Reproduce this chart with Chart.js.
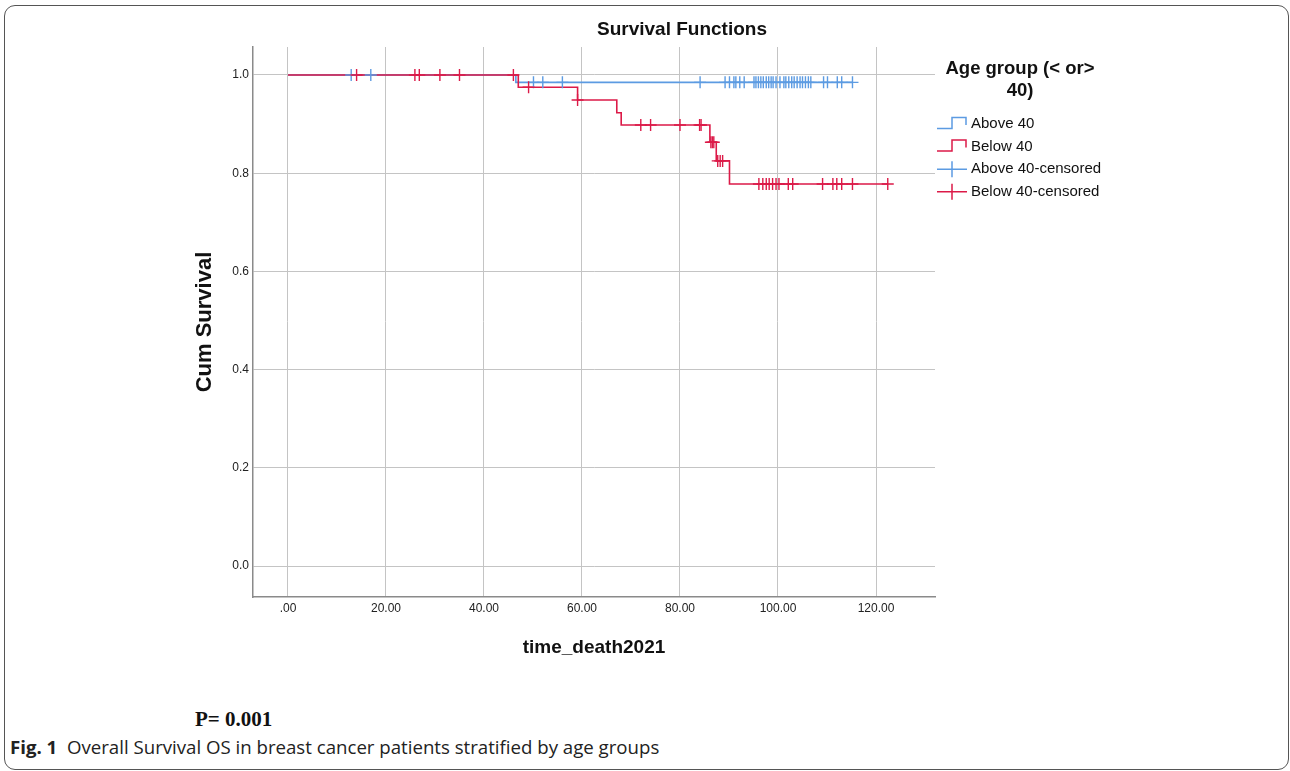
<!DOCTYPE html>
<html>
<head>
<meta charset="utf-8">
<title>Survival Functions</title>
<script src="https://cdn.jsdelivr.net/npm/chart.js@4.4.1/dist/chart.umd.min.js"></script>
<style>
  html, body { margin: 0; padding: 0; background: #ffffff; }
  body { width: 1290px; height: 771px; position: relative; overflow: hidden; font-family: "Liberation Sans", Arial, sans-serif; }
  #frame { position: absolute; left: 4px; top: 5px; width: 1285px; height: 765px; border: 1px solid #555; border-radius: 11px; box-sizing: border-box; }
  #wrap { position: absolute; left: 0; top: 0; width: 1290px; height: 690px; }
  #pval { position: absolute; left: 195px; top: 706px; font: bold 21px "Liberation Serif", "Times New Roman", serif; line-height: 26px; color: #111; }
  #caption { position: absolute; left: 10px; top: 736px; font: 18.65px "Open Sans", "Noto Sans", sans-serif; line-height: 22px; color: #222; white-space: nowrap; }
</style>
</head>
<body>
<div id="frame"></div>
<div id="wrap"><canvas id="km" width="1290" height="690"></canvas></div>
<div id="pval">P= 0.001</div>
<div id="caption"><b>Fig. 1</b>&nbsp; Overall Survival OS in breast cancer patients stratified by age groups</div>

<script>
// Kaplan-Meier steps: time at which the curve reaches each level
const aboveTimes = [0, 46.5, 115.2];
const aboveSurv  = [1.0, 0.985, 0.985];

const belowTimes = [0, 47.0, 59.1, 67.1, 68.0, 86.1, 87.4, 90.1, 122.4];
const belowSurv  = [1.0, 0.975, 0.949, 0.923, 0.898, 0.863, 0.825, 0.778, 0.778];

// Censored observations (months)
const aboveCensored = [12.9, 16.9, 50.1, 52.0, 56.0, 84.1, 89.2, 90.1, 91.0, 91.4, 92.2, 93.1,
  95.1, 95.5, 96.0, 96.5, 97.0, 97.6, 98.1, 98.6, 99.0, 99.6, 100.4, 101.2, 101.6, 102.2,
  102.8, 103.3, 103.9, 104.5, 105.0, 105.6, 106.2, 106.7, 109.3, 110.1, 112.1, 113.0, 115.2];
const belowCensored = [14.0, 25.9, 26.8, 31.0, 35.0, 46.0, 49.1, 59.1, 72.0, 74.0, 80.0, 84.0,
  84.3, 86.3, 86.6, 86.9, 87.7, 88.2, 88.7, 96.1, 96.9, 97.6, 98.2, 98.9, 99.6, 100.2,
  102.1, 103.0, 109.1, 111.2, 112.0, 113.0, 115.2, 122.4];

// Axis ticks
const xTickValues = [0, 20, 40, 60, 80, 100, 120];
const xTickLabels = ['.00', '20.00', '40.00', '60.00', '80.00', '100.00', '120.00'];
const yTickValues = [0, 0.2, 0.4, 0.6, 0.8, 1.0];
const yTickLabels = ['0.0', '0.2', '0.4', '0.6', '0.8', '1.0'];

const legendTitle = ['Age group (< or>', '40)'];
const groupLabels = ['Above 40', 'Below 40', 'Above 40-censored', 'Below 40-censored'];

const BLUE = '#5c9be2';
const RED = '#dc1a48';
const FONT = '"Liberation Sans", Arial, sans-serif';

function stepPoints(times, surv) {
  return times.map((t, i) => ({ x: t, y: surv[i] }));
}
// survival level of a step curve at time t (value of the last step at or before t)
function levelAt(times, surv, t) {
  let s = surv[0];
  for (let i = 0; i < times.length; i++) if (times[i] <= t) s = surv[i];
  return s;
}
function censorPoints(times, surv, cens) {
  return cens.map(t => ({ x: t, y: levelAt(times, surv, t) }));
}

// Legend drawn to the right of the plot: step glyphs for curves, crosses for censored marks
const kmLegend = {
  id: 'kmLegend',
  afterDraw(chart) {
    const ctx = chart.ctx;
    const left = chart.chartArea.right + 2;
    ctx.save();
    ctx.fillStyle = '#111';
    ctx.textBaseline = 'middle';
    ctx.font = 'bold 18.5px ' + FONT;
    ctx.textAlign = 'center';
    legendTitle.forEach((t, i) => ctx.fillText(t, left + 83, 69 + i * 21.5));

    ctx.font = '15px ' + FONT;
    ctx.textAlign = 'left';
    const kinds = ['step', 'step', 'cross', 'cross'];
    const colors = [BLUE, RED, BLUE, RED];
    groupLabels.forEach((lab, i) => {
      const c = 124 + i * 22.6;
      ctx.strokeStyle = colors[i];
      ctx.lineWidth = 1.5;
      ctx.beginPath();
      if (kinds[i] === 'step') {
        ctx.moveTo(left, c + 4.5);
        ctx.lineTo(left + 15, c + 4.5);
        ctx.lineTo(left + 15, c - 6.5);
        ctx.lineTo(left + 29, c - 6.5);
        ctx.lineTo(left + 29, c + 1);
      } else {
        ctx.moveTo(left, c);
        ctx.lineTo(left + 30, c);
        ctx.moveTo(left + 15, c - 8);
        ctx.lineTo(left + 15, c + 8);
      }
      ctx.stroke();
      ctx.fillStyle = '#111';
      ctx.fillText(lab, left + 34, c);
    });
    ctx.restore();
  }
};

Chart.defaults.font.family = FONT;

new Chart(document.getElementById('km'), {
  type: 'scatter',
  data: {
    datasets: [
      {
        label: groupLabels[0],
        data: stepPoints(aboveTimes, aboveSurv),
        showLine: true, stepped: 'before',
        borderColor: BLUE, borderWidth: 1.6, pointRadius: 0, order: 3
      },
      {
        label: groupLabels[1],
        data: stepPoints(belowTimes, belowSurv),
        showLine: true, stepped: 'before',
        borderColor: RED, borderWidth: 1.6, pointRadius: 0, order: 2
      },
      {
        label: groupLabels[2],
        data: censorPoints(aboveTimes, aboveSurv, aboveCensored),
        showLine: false, pointStyle: 'cross', pointRadius: 6,
        borderColor: BLUE, borderWidth: 1.4, order: 1
      },
      {
        label: groupLabels[3],
        data: censorPoints(belowTimes, belowSurv, belowCensored),
        showLine: false, pointStyle: 'cross', pointRadius: 6,
        borderColor: RED, borderWidth: 1.4, order: 0
      }
    ]
  },
  options: {
    responsive: false,
    devicePixelRatio: 1,
    animation: false,
    layout: { padding: { left: 185, right: 111, top: 10, bottom: 23 } },
    plugins: {
      legend: { display: false },
      tooltip: { enabled: false },
      title: {
        display: true,
        text: 'Survival Functions',
        color: '#111',
        font: { size: 19, weight: 'bold' },
        padding: { top: 8.6, bottom: 5.6 }
      }
    },
    scales: {
      x: {
        type: 'linear',
        min: -7.14, max: 132.04,
        afterBuildTicks: s => { s.ticks = xTickValues.map(v => ({ value: v })); },
        afterFit: s => { s.height = 70; },
        ticks: {
          callback: v => xTickLabels[xTickValues.indexOf(v)],
          color: '#222', font: { size: 12 }, padding: 4, maxRotation: 0, autoSkip: false
        },
        grid: { color: '#c4c4c4', lineWidth: 1, drawTicks: false },
        border: { color: '#8a8a8a', width: 1.5 },
        title: {
          display: true, text: 'time_death2021', color: '#111',
          font: { size: 19, weight: 'bold' }, padding: { top: 0, bottom: 7.6 }
        }
      },
      y: {
        type: 'linear',
        min: -0.0631, max: 1.057,
        afterBuildTicks: s => { s.ticks = yTickValues.map(v => ({ value: v })); },
        afterFit: s => { s.width = 68; },
        ticks: {
          callback: v => yTickLabels[yTickValues.indexOf(v)],
          color: '#222', font: { size: 12 }, padding: 4
        },
        grid: { color: '#c4c4c4', lineWidth: 1, drawTicks: false },
        border: { color: '#8a8a8a', width: 1.5 },
        title: {
          display: true, text: 'Cum Survival', color: '#111',
          font: { size: 22, weight: 'bold' }, padding: { top: 6.8, bottom: 0 }
        }
      },
      side: {
        type: 'linear', position: 'right', min: 0, max: 1,
        afterFit: s => { s.width = 244; },
        ticks: { display: false },
        grid: { display: false },
        border: { display: false }
      }
    }
  },
  plugins: [kmLegend]
});
</script>
</body>
</html>
